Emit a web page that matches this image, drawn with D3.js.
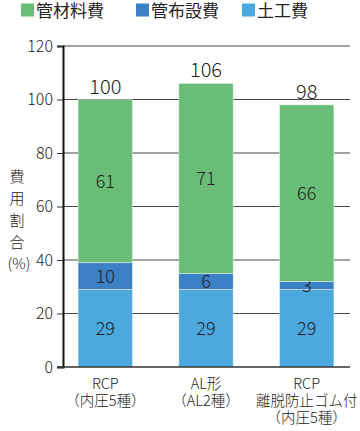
<!DOCTYPE html>
<html>
<head>
<meta charset="utf-8">
<script src="https://cdn.jsdelivr.net/npm/d3@7"></script>
<style>
  body { margin: 0; background: #fff; }
  text { font-family: "Noto Sans CJK JP", sans-serif; font-weight: 300; fill: #222; }
</style>
</head>
<body>
<svg id="chart" width="360" height="431"></svg>
<script>
var categories = [["RCP", "（内圧5種）"], ["AL形", "（AL2種）"], ["RCP", "離脱防止ゴム付", "（内圧5種）"]];
var seriesNames = ["土工費", "管布設費", "管材料費"];
var doboku = [29, 29, 29];
var fusetsu = [10, 6, 3];
var zairyo = [61, 71, 66];
var yTicks = [0, 20, 40, 60, 80, 100, 120];
var colors = ["#4ba9df", "#3b7fc4", "#6abd76"];

var svg = d3.select("#chart");
var plotLeft = 63, plotRight = 349, plotTop = 46, plotBottom = 367;

var x = d3.scaleBand().domain(d3.range(categories.length))
  .range([plotLeft, plotRight]).paddingInner(0.46).paddingOuter(0.15);
var y = d3.scaleLinear().domain([0, 120]).range([plotBottom, plotTop]);

// gridlines
svg.append("g").selectAll("line")
  .data(yTicks.filter(function(d){ return d > 0; }))
  .enter().append("line")
  .attr("x1", plotLeft).attr("x2", plotRight + 1)
  .attr("y1", function(d){ return y(d); })
  .attr("y2", function(d){ return y(d); })
  .attr("stroke", "#444").attr("stroke-width", 1);

var rows = categories.map(function(c, i){
  return [doboku[i], fusetsu[i], zairyo[i]];
});
var stack = d3.stack().keys([0, 1, 2])(rows);

var layer = svg.append("g").selectAll("g")
  .data(stack).enter().append("g")
  .attr("fill", function(d, i){ return colors[i]; });

layer.selectAll("rect")
  .data(function(d){ return d; })
  .enter().append("rect")
  .attr("x", function(d, i){ return x(i); })
  .attr("width", x.bandwidth())
  .attr("y", function(d){ return y(d[1]); })
  .attr("height", function(d){ return y(d[0]) - y(d[1]); })
  .attr("stroke", "rgba(255,255,255,0.5)").attr("stroke-width", 0.8);

layer.selectAll("text")
  .data(function(d){ return d; })
  .enter().append("text")
  .attr("x", function(d, i){ return x(i) + x.bandwidth() / 2; })
  .attr("y", function(d){ return (y(d[0]) + y(d[1])) / 2; })
  .attr("dy", "0.36em")
  .attr("text-anchor", "middle")
  .attr("font-size", 18)
  .text(function(d){ return d[1] - d[0]; });

// totals
svg.append("g").selectAll("text")
  .data(rows).enter().append("text")
  .attr("x", function(d, i){ return x(i) + x.bandwidth() / 2; })
  .attr("y", function(d){ return y(d3.sum(d)) - 6; })
  .attr("text-anchor", "middle")
  .attr("font-size", 20)
  .text(function(d){ return d3.sum(d); });

// y axis
var yAxis = svg.append("g")
  .attr("transform", "translate(" + plotLeft + ",0)")
  .call(d3.axisLeft(y).tickValues(yTicks).tickSize(6).tickPadding(4));
yAxis.select(".domain").attr("stroke", "#111").attr("stroke-width", 2);
yAxis.selectAll(".tick line").attr("stroke", "#333");
yAxis.selectAll(".tick text").attr("font-size", 16).style("fill", "#222")
  .style("font-family", '"Noto Sans CJK JP", sans-serif');

// baseline
svg.append("line")
  .attr("x1", plotLeft - 6).attr("x2", plotRight + 1)
  .attr("y1", plotBottom).attr("y2", plotBottom)
  .attr("stroke", "#333").attr("stroke-width", 1.5);

// y title
var yTitle = ["費", "用", "割", "合"];
svg.append("g").selectAll("text")
  .data(yTitle).enter().append("text")
  .attr("x", 17).attr("y", function(d, i){ return 182 + i * 22; })
  .attr("text-anchor", "middle").attr("font-size", 15)
  .text(function(d){ return d; });
svg.append("text").attr("x", 19).attr("y", 269)
  .attr("text-anchor", "middle").attr("font-size", 15).text("(%)");

// x labels
svg.append("g").selectAll("g")
  .data(categories).enter().append("text")
  .attr("text-anchor", "middle")
  .attr("font-size", 14.5)
  .each(function(d, i){
    d3.select(this).selectAll("tspan").data(d).enter().append("tspan")
      .attr("x", x(i) + x.bandwidth() / 2)
      .attr("y", function(t, j){ return 389 + j * 17; })
      .text(function(t){ return t; });
  });

// legend
var legendItems = [
  { name: seriesNames[2], color: colors[2], x: 21 },
  { name: seriesNames[1], color: colors[1], x: 136 },
  { name: seriesNames[0], color: colors[0], x: 242 }
];
var lg = svg.append("g").selectAll("g").data(legendItems).enter().append("g")
  .attr("transform", function(d){ return "translate(" + d.x + ",0)"; });
lg.append("rect").attr("x", 0).attr("y", 3.5).attr("width", 13).attr("height", 13)
  .attr("fill", function(d){ return d.color; });
lg.append("text").attr("x", 15).attr("y", 17).attr("font-size", 17)
  .style("font-weight", 400)
  .text(function(d){ return d.name; });
</script>
</body>
</html>
